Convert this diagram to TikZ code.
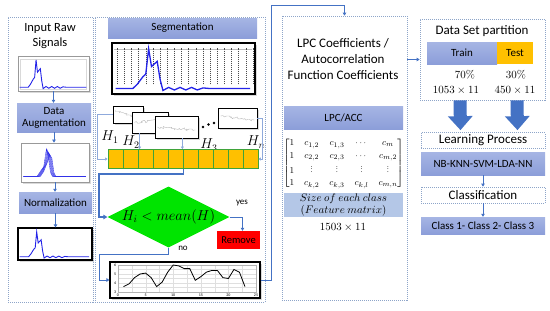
\documentclass[tikz,border=0pt]{standalone}
\usepackage{amsmath}
\usepackage[no-math]{fontspec}
\setmainfont{Carlito}
\usetikzlibrary{arrows.meta,positioning,shapes.geometric,shadows,calc,
                decorations.pathmorphing}
\definecolor{frame}{HTML}{8EA5C9}
\definecolor{flow}{HTML}{4472C4}
\definecolor{thin}{HTML}{8FAADC}
\definecolor{boxtop}{HTML}{A6B5E4}
\definecolor{boxbot}{HTML}{8C9ED9}
\definecolor{pale}{HTML}{B4C7E7}
\definecolor{amber}{HTML}{FFC000}
\definecolor{leaf}{HTML}{00E400}
\definecolor{leafdark}{HTML}{3FA33A}
\definecolor{sig}{HTML}{2323E8}

% one spiky raw signal in a 100 x 100 frame
\newcommand{\spikesignal}[1]{\draw[#1] (3,12) -- (15,12) -- (18,20) -- (22,35)
  -- (24,40) -- (26,90) -- (28,55) -- (30,60) -- (32,65) -- (34,30) -- (36,8)
  -- (40,14) -- (44,9) -- (48,14) -- (52,9) -- (56,14) -- (60,9) -- (64,13)
  -- (68,12) -- (97,12);}
\newcommand{\vdotsflat}{\raisebox{1pt}{\scalebox{0.7}{$\vdots$}}}

\begin{document}
\begin{tikzpicture}[x=1pt,y=-1pt,font=\fontsize{11}{12}\selectfont,
  panel/.style={draw=frame,line width=0.7pt,dash pattern=on 1pt off 1pt,inner sep=0pt},
  dashbox/.style={panel,font=\fontsize{13}{15}\selectfont},
  bluebox/.style={top color=boxtop,bottom color=boxbot,inner sep=0pt,align=center},
  plotbox/.style={draw=gray!80,fill=white,line width=0.8pt,inner sep=0pt,
    drop shadow={opacity=0.3,shadow xshift=1.5pt,shadow yshift=-1.5pt}},
  segbox/.style={plotbox,draw=black},
  title/.style={font=\fontsize{12.5}{15}\selectfont,align=center},
  head/.style={font=\fontsize{13}{16}\selectfont,align=center},
  num/.style={font=\fontsize{10.95}{12}\selectfont},
  flowarrow/.style={draw=flow,line width=0.8pt,-{Triangle[width=3.5pt,length=3pt]}},
  thinflow/.style={draw=thin,line width=0.5pt,-{Triangle[width=3pt,length=2.5pt]}},
  mainflow/.style={draw=flow,line width=1.2pt,-{Triangle[width=4.5pt,length=4pt]}},
  blockflow/.style={draw=flow,line width=13pt,-{Triangle[width=24pt,length=14pt]}},
  cell/.style={fill=amber,draw=leafdark,line width=0.8pt,minimum width=15pt,
    minimum height=19pt,inner sep=0pt},
  wiggle/.style={gray!55,line width=0.4pt,decorate,
    decoration={random steps,segment length=1.3pt,amplitude=1.3pt}}]
  \useasboundingbox (0,0) rectangle (550,311);

  % input raw signals
  \node[panel,minimum width=85pt,minimum height=285pt] (inpanel) at (50.5,159.5) {};
  \node[title] (intitle) at (50,36) {Input Raw\\Signals};
  \node[plotbox,minimum width=71pt,minimum height=35pt] (rawplot) at (53.5,73.5) {};
  \begin{scope}[shift={(rawplot.south west)},x=0.71pt,y=0.35pt]
    \draw[gray!30] (4,6) rectangle (97,92);
    \spikesignal{sig,line width=0.9pt}
  \end{scope}
  \node[bluebox,minimum width=74pt,minimum height=29pt] (aug) at (54,117.5) {Data\\Augmentation};
  \node[plotbox,minimum width=68pt,minimum height=39pt] (augplot) at (55,162.5) {};
  \begin{scope}[shift={(augplot.south west)},x=0.68pt,y=0.39pt]
    \foreach \s in {0,1,...,5}
      \draw[sig,line width=0.35pt] (4,15) -- (24+\s,15) -- (29+\s,28) -- (34+\s,40+2*\s)
        -- (38+\s,86-3*\s) -- (41+\s,62) -- (44+\s,25) -- (47+\s,15) -- (96,15);
  \end{scope}
  \node[bluebox,minimum width=73pt,minimum height=21pt] (norm) at (55.5,202.5) {Normalization};
  \node[plotbox,draw=black,line width=1.1pt,minimum width=74pt,minimum height=32pt] (normplot) at (55,244) {};
  \begin{scope}[shift={(normplot.south west)},x=0.74pt,y=0.32pt]
    \spikesignal{sig,line width=0.9pt}
  \end{scope}
  \draw[flowarrow] (rawplot.south) -- (rawplot.south |- aug.north);
  \draw[flowarrow] (aug.south) -- (aug.south |- augplot.north);
  \draw[flowarrow] (augplot.south) -- (augplot.south |- norm.north);
  \draw[flowarrow] (norm.south) -- (norm.south |- normplot.north);

  % segmentation
  \node[panel,minimum width=170pt,minimum height=285pt] (segpanel) at (180,159.5) {};
  \node[bluebox,minimum width=149pt,minimum height=20pt] (seg) at (182.5,28) {Segmentation};
  \node[segbox,line width=1.1pt,minimum width=143pt,minimum height=51pt] (segplot) at (183.5,68.5) {};
  \begin{scope}[shift={(segplot.south west)},x=1.43pt,y=0.51pt]
    \draw[gray!50] (2,88) -- (98,88);
    \foreach \i in {4,9,...,99}
      \draw[black!70,line width=0.5pt,dash pattern=on 1pt off 1pt] (\i,20) -- (\i,92);
    \spikesignal{sig,line width=1.3pt}
  \end{scope}
  \node[segbox,minimum width=30pt,minimum height=17pt] (box1) at (128,114.5) {};
  \draw[wiggle] ([xshift=3pt,yshift=4pt]box1.west) -- ([xshift=-3pt,yshift=-4pt]box1.east);
  \node[segbox,minimum width=36pt,minimum height=21pt] (box2) at (150,122.5) {};
  \draw[wiggle] ([xshift=3pt]box2.west) -- ([xshift=-3pt,yshift=3pt]box2.east);
  \node[segbox,minimum width=43pt,minimum height=22pt] (box3) at (176.5,127) {};
  \draw[wiggle] ([xshift=3pt]box3.west) -- ([xshift=-3pt,yshift=-3pt]box3.east);
  \node[segbox,minimum width=39pt,minimum height=20pt] (box4) at (237.5,118) {};
  \draw[wiggle] ([xshift=3pt,yshift=2pt]box4.west) -- ([xshift=-3pt,yshift=-2pt]box4.east);
  \foreach \d/\h in {0/0,5.5/2.5,11/4}
    \fill (203+\d,127-\h) circle (1.3pt);
  \node[font=\fontsize{14.4}{15}\selectfont] (h1) at (110,137) {$H_1$};
  \node[font=\fontsize{14.4}{15}\selectfont] (h2) at (131,142) {$H_2$};
  \node[font=\fontsize{14.4}{15}\selectfont] (h3) at (209,145) {$H_3$};
  \node[font=\fontsize{14.4}{15}\selectfont] (hn) at (256,142) {$H_n$};
  \foreach \i in {0,...,9}
    \node[cell] (cell\i) at (115.5+15*\i,159) {};
  \draw[thinflow] (box1.west) -- ++(-15pt,0) |- (cell0.west);
  \draw[thinflow] ([xshift=8pt]box2.south west) -- ([xshift=8pt]box2.south west |- cell2.north);
  \draw[thinflow] ([xshift=-16pt]box3.south east) -- ([xshift=-16pt]box3.south east |- cell4.north);
  \draw[thinflow] (box4.east) -- ++(5pt,0) |- (cell9.east);
  \node[diamond,fill=leaf,aspect=2,minimum width=117pt,minimum height=60pt,inner sep=0pt,
        font=\fontsize{14.4}{15}\selectfont] (check) at (168.5,217) {$H_i < mean(H)$};
  \node[fill=red,minimum width=43pt,minimum height=18pt,inner sep=0pt,
        font=\fontsize{10.5}{12}\selectfont] (remove) at (238.5,240) {Remove};
  \node[font=\fontsize{9}{10}\selectfont] (yes) at (242,203) {yes};
  \node[font=\fontsize{9}{10}\selectfont] (no) at (183,248) {no};
  \node[segbox,line width=1.1pt,minimum width=150pt,minimum height=36pt] (trendplot) at (185,280) {};
  \begin{scope}[shift={(118,292)},x=5.52pt,y=9pt]
    \draw[gray!25,line width=0.2pt] (0,0) grid[xstep=2.5,ystep=0.5] (25,3);
    \draw[gray!60,line width=0.3pt] (0,0) rectangle (25,3);
    \foreach \t in {0,5,...,25}
      \node[font=\fontsize{4}{4}\selectfont,inner sep=0pt] at (\t,-0.35) {\t};
    \foreach \t in {3,...,6}
      \node[font=\fontsize{4}{4}\selectfont,inner sep=0pt] at (-0.5,\t-3) {\t};
    \draw[black,line width=0.8pt] plot coordinates {(1,0.6) (2,0.9) (3,1.6) (4,2.0)
      (5,2.1) (6,1.6) (7,0.6) (8,1.1) (9,2.2) (10,3.0) (11,2.9) (12,2.6) (13,2.6)
      (14,1.3) (15,1.7) (16,2.2) (17,2.4) (18,2.4) (19,1.6) (20,1.5) (21,2.5)
      (22,2.2) (23,0.6)};
  \end{scope}
  \coordinate (bendA) at (99,174);
  \coordinate (bendB) at (99,254);
  \draw[mainflow] (cell4.south east) |- (bendA) |- (check.west);
  \draw[flowarrow] (check.east) -| ([xshift=4pt]remove.north);
  \draw[flowarrow] (check.south) |- (bendB) |- (trendplot.west);

  % lpc / acc features
  \node[panel,minimum width=125pt,minimum height=284pt] (lpcpanel) at (344.5,158) {};
  \node[head] (lpctitle) at (343,59) {LPC Coefficients /\\Autocorrelation\\Function Coefficients};
  \node[bluebox,minimum width=119pt,minimum height=23pt] (lpc) at (343.5,117.5) {LPC/ACC};
  \node[font=\fontsize{9.5}{9.5}\selectfont,inner sep=0pt] (feat) at (343.5,163.5)
    {\renewcommand{\arraystretch}{1.3}$\begin{bmatrix}
      1 & c_{1,2} & c_{1,3} & \cdots & c_m\\
      1 & c_{2,2} & c_{2,3} & \cdots & c_{m,2}\\
      1 & \vdotsflat & \vdotsflat & \vdotsflat & \vdotsflat\\
      1 & c_{k,2} & c_{k,3} & c_{k,l} & c_{m,n}
    \end{bmatrix}$};
  \node[fill=pale,minimum width=119pt,minimum height=24pt,inner sep=0pt,align=center,
        font=\fontsize{10.95}{12}\selectfont] (size) at (343.5,205)
    {$Size\ of\ each\ class$\\$(Feature\ matrix)$};
  \node[num] (count) at (343,227) {$1503 \times 11$};
  \coordinate (hop) at (271,5);
  \draw[flowarrow] (trendplot.east) -| (hop) -| (lpcpanel.north);

  % partition and learning
  \node[panel,minimum width=125pt,minimum height=81pt] (partpanel) at (482.5,59.5) {};
  \node[head] (parttitle) at (482,31) {Data Set partition};
  \node[bluebox,minimum width=70pt,minimum height=22pt] (train) at (462,53) {Train};
  \node[fill=amber,minimum width=36pt,minimum height=22pt,inner sep=0pt] (test) at (515,53) {Test};
  \node[num] (trainpct) at (465,75) {$70\%$};
  \node[num] (testpct) at (516,75) {$30\%$};
  \node[num] (trainsize) at (456,90) {$1053 \times 11$};
  \node[num] (testsize) at (515,90) {$450 \times 11$};
  \draw[flowarrow] (lpcpanel.east |- partpanel.west) -- (partpanel.west);
  \node[dashbox,minimum width=124pt,minimum height=16pt] (learn) at (483,140.5) {Learning Process};
  \node[bluebox,minimum width=124pt,minimum height=23pt] (models) at (483,163.5) {NB-KNN-SVM-LDA-NN};
  \node[dashbox,minimum width=124pt,minimum height=16pt] (classify) at (483,195) {Classification};
  \node[bluebox,minimum width=124pt,minimum height=17pt] (classes) at (483,225.5) {Class 1- Class 2- Class 3};
  \draw[blockflow] ([xshift=-22.5pt]partpanel.south) -- ([xshift=-22.5pt,yshift=2pt]learn.north);
  \draw[blockflow] ([xshift=34.5pt]partpanel.south) -- ([xshift=34.5pt,yshift=2pt]learn.north);
  \draw[flowarrow] (models.south) -- (classify.north);
  \draw[flowarrow] (classify.south) -- (classes.north);
\end{tikzpicture}
\end{document}
